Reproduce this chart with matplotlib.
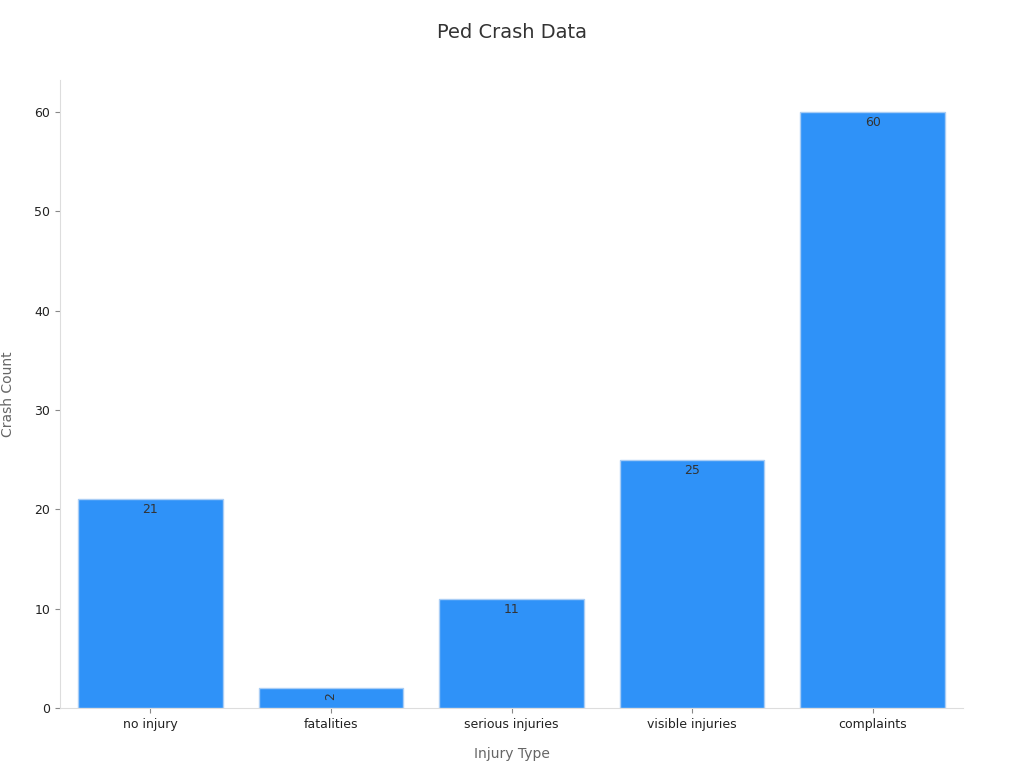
import matplotlib
matplotlib.use("Agg")
import matplotlib.pyplot as plt

categories = ["no injury", "fatalities", "serious injuries", "visible injuries", "complaints"]
values = [21, 2, 11, 25, 60]

fig = plt.figure(figsize=(10.24, 7.68), dpi=100)
ax = fig.add_axes([60/1024, 60/768, 903/1024, 628/768])
bars = ax.bar(range(len(values)), values, width=0.8, color="#2f92f8", edgecolor="#a9cdf5", linewidth=1)
for i, v in enumerate(values):
    ax.text(i, v - 0.4, str(v), ha="center", va="top", fontsize=9, color="#333333",
            rotation=90 if v < 5 else 0)
ax.set_xlim(-0.5, 4.5)
ax.set_ylim(0, 63.2)
ax.set_xticks(range(len(values)))
ax.set_xticklabels(categories, fontsize=9, color="#222222")
ax.set_yticks([0, 10, 20, 30, 40, 50, 60])
ax.tick_params(axis="y", labelsize=9, colors="#222222")
for t in ax.get_yticklabels(): t.set_color("#222222")
ax.tick_params(colors="#888888")
for t in ax.get_xticklabels() + ax.get_yticklabels(): t.set_color("#222222")
ax.spines["top"].set_visible(False)
ax.spines["right"].set_visible(False)
ax.spines["left"].set_color("#dddddd")
ax.spines["bottom"].set_color("#dddddd")
ax.set_xlabel("Injury Type", fontsize=10, color="#666666", labelpad=12)
ax.set_ylabel("Crash Count", fontsize=10, color="#666666", labelpad=14)
fig.suptitle("Ped Crash Data", y=0.97, fontsize=14, color="#333333")
fig.savefig("out.png", dpi=100)
